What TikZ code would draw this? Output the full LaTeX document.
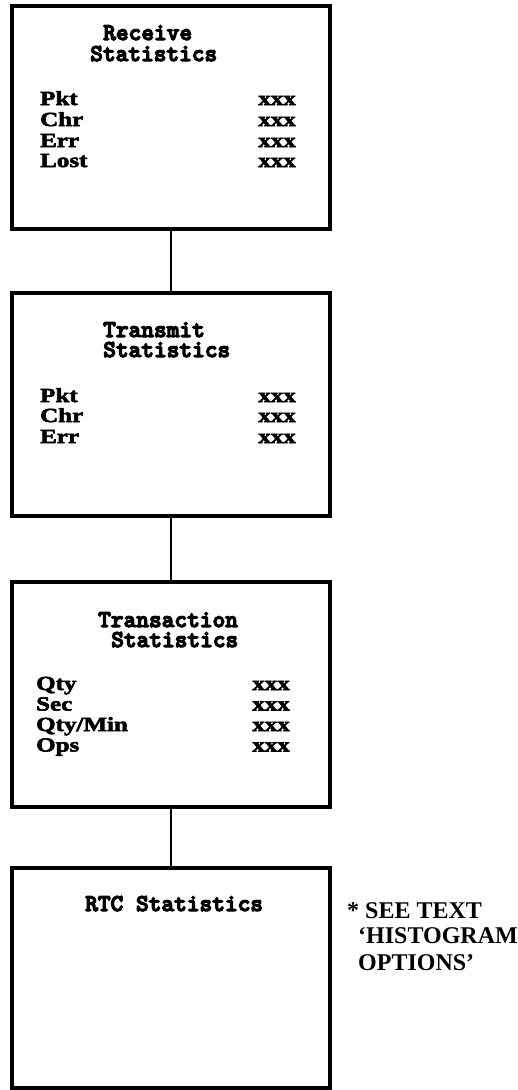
\documentclass[tikz,border=0pt]{standalone}
\usepackage{fontspec}
\newfontfamily\ttlfont{Latin Modern Mono Light}[FakeBold=5]
\newfontfamily\lblfont{Liberation Serif Bold}[FakeStretch=1.25,FakeBold=3]
\newfontfamily\notefont{Liberation Serif Bold}
\begin{document}
\begin{tikzpicture}[x=1pt,y=-1pt,
  box/.style={draw,line width=4pt,inner sep=0pt,rectangle},
  wire/.style={line width=1.6pt},
  ttltext/.style={inner sep=0pt,anchor=base west,font=\ttlfont\bfseries\fontsize{24.2}{24}\selectfont},
  lbltext/.style={inner sep=0pt,anchor=base west,font=\lblfont\fontsize{20}{20}\selectfont},
  valtext/.style={inner sep=0pt,anchor=base east,font=\lblfont\fontsize{20}{20}\selectfont},
  notetext/.style={inner sep=0pt,anchor=base west,font=\notefont\fontsize{24}{26}\selectfont}]
\useasboundingbox (0,0) rectangle (518,1090);
% boxes
\node[box,minimum width=318pt,minimum height=223pt] (b1) at (171,117.5) {};
\node[box,minimum width=318pt,minimum height=223pt] (b2) at (171,404.5) {};
\node[box,minimum width=318pt,minimum height=225pt] (b3) at (171,694.5) {};
\node[box,minimum width=318pt,minimum height=220pt] (b4) at (171,978) {};
% connectors
\draw[wire] (b1.south) -- (b2.north);
\draw[wire] (b2.south) -- (b3.north);
\draw[wire] (b3.south) -- (b4.north);
% box 1
\node[ttltext] (t1a) at (103,40) {Receive};
\node[ttltext] (t1b) at (90,61) {Statistics};
\node[lbltext] (l1a) at (40,105) {Pkt};
\node[lbltext] (l1b) at (40,126) {Chr};
\node[lbltext] (l1c) at (40,147) {Err};
\node[lbltext] (l1d) at (40,167) {Lost};
\node[valtext] (v1a) at (296,105) {xxx};
\node[valtext] (v1b) at (296,126) {xxx};
\node[valtext] (v1c) at (296,147) {xxx};
\node[valtext] (v1d) at (296,167) {xxx};
% box 2
\node[ttltext] (t2a) at (103,337) {Transmit};
\node[ttltext] (t2b) at (103,357) {Statistics};
\node[lbltext] (l2a) at (40,402) {Pkt};
\node[lbltext] (l2b) at (40,422) {Chr};
\node[lbltext] (l2c) at (40,443) {Err};
\node[valtext] (v2a) at (296,402) {xxx};
\node[valtext] (v2b) at (296,422) {xxx};
\node[valtext] (v2c) at (296,443) {xxx};
% box 3
\node[ttltext] (t3a) at (98,627) {Transaction};
\node[ttltext] (t3b) at (111,647) {Statistics};
\node[lbltext] (l3a) at (36,690) {Qty};
\node[lbltext] (l3b) at (36,710.5) {Sec};
\node[lbltext] (l3c) at (36,731) {Qty/Min};
\node[lbltext] (l3d) at (36,751.5) {Ops};
\node[valtext] (v3a) at (290,690) {xxx};
\node[valtext] (v3b) at (290,710.5) {xxx};
\node[valtext] (v3c) at (290,731) {xxx};
\node[valtext] (v3d) at (290,751.5) {xxx};
% box 4
\node[ttltext] (t4a) at (85,911) {RTC Statistics};
% note
\node[notetext] (n1) at (347,918) {* SEE TEXT};
\node[notetext] (n2) at (358,943) {‘HISTOGRAM};
\node[notetext] (n3) at (358,970) {OPTIONS’};
\end{tikzpicture}
\end{document}
